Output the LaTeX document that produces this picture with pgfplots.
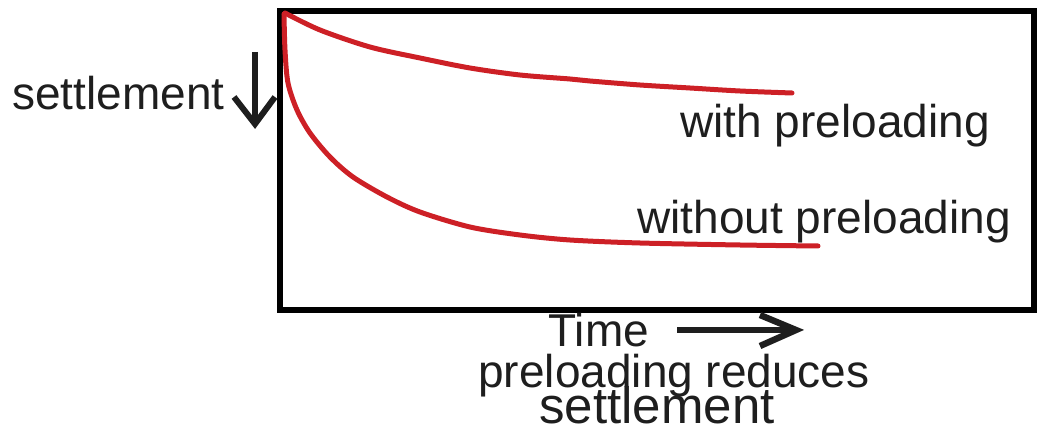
\documentclass[border=0pt]{standalone}
\usepackage{pgfplots}
\pgfplotsset{compat=1.18}
\usepackage{fontspec}
\setmainfont{Liberation Sans}
\definecolor{curvered}{RGB}{205,32,38}
\definecolor{txt}{RGB}{30,30,30}
\begin{document}
\begin{tikzpicture}
\begin{axis}[
  scale only axis,
  width=377pt, height=149.5pt,
  xmin=280, xmax=1034, ymin=11, ymax=310,
  y dir=reverse,
  xtick=\empty, ytick=\empty,
  axis line style={line width=2.6pt, black},
  clip=false,
]
\path (axis cs:0,0) rectangle (axis cs:1037,432);
% with preloading
\addplot[curvered, line width=2.5pt, smooth, line cap=round] coordinates {
  (285,13) (320,30) (370,47) (420,58) (470,68) (520,75) (570,79)
  (590,81) (640,85) (690,88) (740,91) (792,93)
};
% without preloading
\addplot[curvered, line width=2.5pt, smooth, line cap=round] coordinates {
  (284,14) (285,50) (288,83) (297,110) (310,133) (330,157) (353,177)
  (387,197) (420,212) (470,227) (520,235) (570,240) (640,243) (740,245) (818,246)
};
% labels
\node[anchor=base west, inner sep=0pt, text=txt, font=\fontsize{23}{27}\selectfont] at (axis cs:12,110) {settlement};
\node[anchor=base west, inner sep=0pt, text=txt, font=\fontsize{23}{27}\selectfont] at (axis cs:680,138) {with preloading};
\node[anchor=base west, inner sep=0pt, text=txt, font=\fontsize{23}{27}\selectfont] at (axis cs:637,234) {without preloading};
\node[anchor=base west, inner sep=0pt, text=txt, font=\fontsize{23}{27}\selectfont] at (axis cs:548,346) {Time};
\node[anchor=base west, inner sep=0pt, text depth=0pt, text=txt, font=\fontsize{23}{27}\selectfont] at (axis cs:478,387) {preloading reduces};
\node[anchor=base west, inner sep=0pt, text height=16pt, text depth=0pt, text=txt, font=\fontsize{25.5}{30}\selectfont] at (axis cs:539,423) {settlement};
% arrows
\draw[line width=3pt, txt] (axis cs:255,52) -- (axis cs:255,124);
\draw[line width=3pt, txt] (axis cs:234,97) -- (axis cs:255,124) -- (axis cs:275,97);
\draw[line width=3.2pt, txt] (axis cs:677,330) -- (axis cs:792,330);
\draw[line width=3.2pt, txt] (axis cs:760,315) -- (axis cs:796,330) -- (axis cs:760,346);
\end{axis}
\end{tikzpicture}
\end{document}
